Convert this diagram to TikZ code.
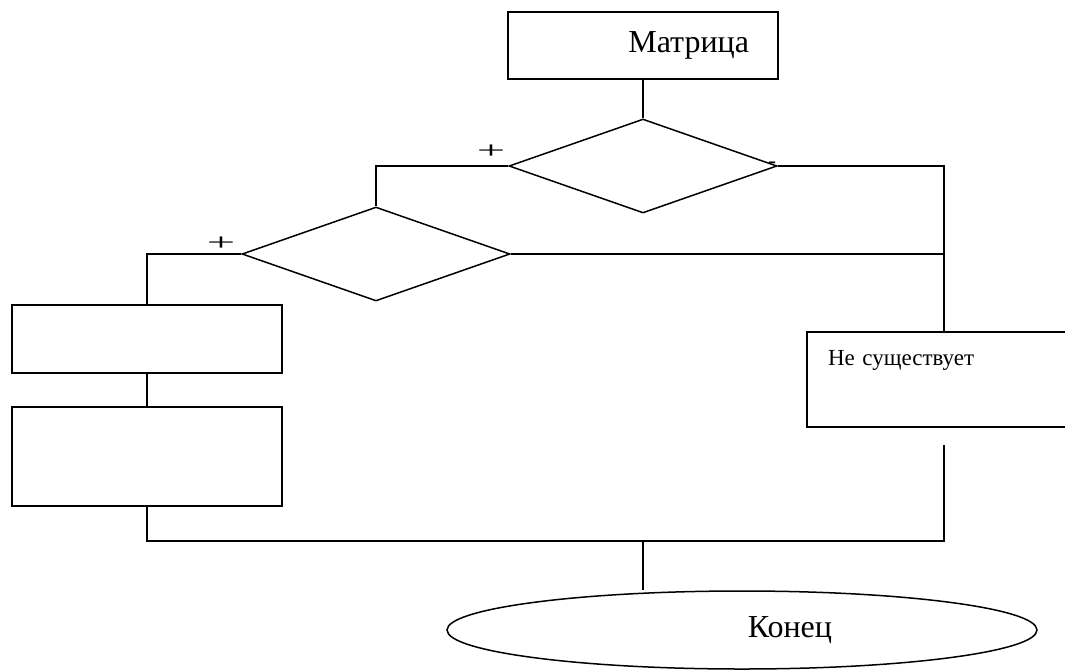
\documentclass[tikz,border=0pt]{standalone}
\usepackage{fontspec}
\setmainfont{Liberation Serif}
\usetikzlibrary{shapes.geometric}

\begin{document}
\begin{tikzpicture}[x=1pt, y=-1pt, line width=1.5pt,
  box/.style={draw, rectangle, inner sep=0pt},
  cond/.style={draw, diamond, minimum width=268pt, minimum height=94pt, inner sep=0pt},
  sgn/.style={inner sep=0pt, font=\fontsize{24}{24}\selectfont}]
   \useasboundingbox (0,0) rectangle (1065,670);

   \node[box, text width=212pt, align=right, inner xsep=29pt, text height=40pt, text depth=27pt,
         font=\fontsize{32}{36}\selectfont] (matr) at (643,45.5) {Матрица};
   \node[cond] (d1) at (643,166) {};
   \node[cond] (d2) at (376,254) {};
   \node[box, minimum width=270pt, minimum height=68pt] (blkA) at (147,339) {};
   \node[box, minimum width=270pt, minimum height=99pt] (blkB) at (147,456.5) {};
   \node[box, text width=232pt, align=left, inner xsep=21pt, text height=33pt, text depth=62pt,
         font=\fontsize{23}{26}\selectfont] (none) at (944,379.5) {Не существует};
   \node[draw, ellipse, minimum width=590pt, minimum height=78pt, text width=180pt, align=right,
         inner sep=0pt, font=\fontsize{32}{36}\selectfont] (fin) at (742,630) {Конец};

   \node[sgn] (p1) at (491,152) {\scalebox{2.1}[1]{+}};
   \node[sgn] (p2) at (221,243.5) {\scalebox{2.1}[1]{+}};
   \node[sgn] (m1) at (772,165.5) {-};

   \draw (matr) -- (d1);
   \draw (d1.west) -| (d2.north);
   \draw (d1.east) -| (none.north);
   \draw (d2.east) -- (d2.east -| none.north);
   \draw (d2.west) -| (blkA.north);
   \draw (blkA) -- (blkB);
   \coordinate (join) at (643,541);
   \draw (blkB.south) |- (join) -| ([yshift=-17pt]none.south);
   \draw (join) -- (join |- fin.north);
\end{tikzpicture}
\end{document}
